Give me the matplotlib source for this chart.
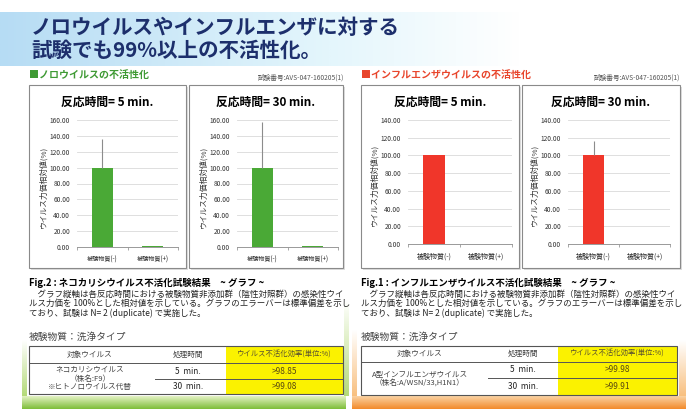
import numpy as np
import matplotlib
matplotlib.use("Agg")
import matplotlib.pyplot as plt
from matplotlib.patches import Rectangle

plt.rcParams['font.family'] = ['Noto Sans CJK JP', 'DejaVu Sans']

W, H = 690, 409

# data
categories = ['被験物質(-)', '被験物質(+)']
noro_5 = [100.0, 1.15]
noro_5_err = [36.0, 0.0]
noro_30 = [100.0, 0.92]
noro_30_err = [57.0, 0.0]
flu_5 = [100.0, 0.02]
flu_5_err = [0.5, 0.0]
flu_30 = [100.0, 0.09]
flu_30_err = [16.5, 0.0]

noro_ylim = 160
flu_ylim = 140
times = ['5  min.', '30  min.']
noro_eff = ['>98.85', '>99.08']
flu_eff = ['>99.98', '>99.91']

GREEN = '#4aa936'
RED = '#f0362a'
NAVY = '#1d2f6c'

fig = plt.figure(figsize=(W / 100, H / 100), dpi=100)
bg = fig.add_axes([0, 0, 1, 1])
bg.set_xlim(0, W)
bg.set_ylim(H, 0)
bg.axis('off')


def gradient(ax, x0, x1, y0, y1, c0, c1, horizontal=True):
    c0 = np.array(matplotlib.colors.to_rgb(c0))
    c1 = np.array(matplotlib.colors.to_rgb(c1))
    t = np.linspace(0, 1, 128)
    cols = c0[None, :] * (1 - t[:, None]) + c1[None, :] * t[:, None]
    img = cols[None, :, :] if horizontal else cols[:, None, :]
    ax.imshow(img, extent=(x0, x1, y1, y0), aspect='auto', zorder=0,
              interpolation='bilinear')


# title band
gradient(bg, 0, 330, 12, 66, '#b6dcf4', '#e4f6fc')
gradient(bg, 330, 520, 12, 66, '#e4f6fc', '#ffffff')
bg.text(31, 27, 'ノロウイルスやインフルエンザに対する', fontsize=14.8,
        fontweight='bold', color=NAVY, va='center')
bg.text(31, 50, '試験でも99%以上の不活性化。', fontsize=14.8,
        fontweight='bold', color=NAVY, va='center')

# bottom decorations
gradient(bg, 22, 346, 396, 409, '#e4f2c4', '#7dbe38', horizontal=False)
gradient(bg, 22, 27, 340, 396, '#ffffff', '#b4da78', horizontal=False)
gradient(bg, 344, 349, 300, 396, '#ffffff', '#b4da78', horizontal=False)
gradient(bg, 352, 686, 396, 409, '#fbd3a4', '#f28a2a', horizontal=False)
gradient(bg, 352, 357, 330, 396, '#ffffff', '#f8c080', horizontal=False)
gradient(bg, 679, 686, 340, 396, '#ffffff', '#f8c080', horizontal=False)

# section headers
bg.text(29, 76, '■ノロウイルスの不活性化', fontsize=7.2, fontweight='bold',
        color='#3f9a34', va='center')
bg.text(344, 78, '試験番号:AVS-047-160205(1)', fontsize=4.8, color='#555555',
        va='center', ha='right')
bg.text(361, 76, '■インフルエンザウイルスの不活性化', fontsize=7.2,
        fontweight='bold', color='#e8452c', va='center')
bg.text(680, 78, '試験番号:AVS-047-160205(1)', fontsize=4.8, color='#555555',
        va='center', ha='right')

panels = [
    (29, 186, 77, 178, noro_5, noro_5_err, noro_ylim, GREEN, '反応時間= 5 min.', 4.4),
    (189, 343, 237, 338, noro_30, noro_30_err, noro_ylim, GREEN, '反応時間= 30 min.', 4.4),
    (361, 519, 408, 512, flu_5, flu_5_err, flu_ylim, RED, '反応時間= 5 min.', 5.0),
    (522, 680, 568, 670, flu_30, flu_30_err, flu_ylim, RED, '反応時間= 30 min.', 5.0),
]

for bx0, bx1, ax0, ax1, vals, errs, ymax, col, title, xfs in panels:
    bg.add_patch(Rectangle((bx0 + 1.5, 86.5), bx1 - bx0, 183, facecolor='#dddddd',
                           edgecolor='none', zorder=1))
    bg.add_patch(Rectangle((bx0, 85), bx1 - bx0, 183, facecolor='white',
                           edgecolor='#8a8a8a', linewidth=0.8, zorder=2))
    bg.text((bx0 + bx1) / 2, 102, title, fontsize=8.5, fontweight='bold',
            ha='center', va='center', zorder=3)
    top, bottom = 120, (247 if ymax == 160 else 244)
    bg.text(ax0 - 34, (top + bottom) / 2 + 3, 'ウイルス力価相対値(%)', fontsize=5.6,
            rotation=90, ha='center', va='center', color='#333333', zorder=3)

    ax = fig.add_axes([ax0 / W, 1 - bottom / H, (ax1 - ax0) / W, (bottom - top) / H])
    ax.set_zorder(5)
    ax.patch.set_alpha(0)
    x = np.arange(len(categories))
    ax.bar(x, vals, width=0.42, color=col, zorder=3,
           yerr=[[0] * len(errs), errs], ecolor='#8c8c8c',
           error_kw=dict(elinewidth=0.8, capsize=0))
    ax.set_xlim(-0.5, 1.5)
    ax.set_ylim(0, ymax)
    ax.set_yticks(np.arange(0, ymax + 1, 20))
    ax.set_yticklabels(['%.2f' % v for v in np.arange(0, ymax + 1, 20)])
    ax.set_xticks(x)
    ax.set_xticklabels(categories)
    ax.set_xticks([-0.5, 0.5, 1.5], minor=True)
    ax.tick_params(axis='x', which='major', length=0, pad=6, labelsize=xfs,
                   labelcolor='#222222')
    ax.tick_params(axis='x', which='minor', length=2.5, color='#999999',
                   width=0.6)
    ax.tick_params(axis='y', length=0, pad=5, labelsize=4.8, labelcolor='#333333')
    ax.grid(axis='y', color='#d9d9d9', linewidth=0.6, zorder=0)
    for s in ['top', 'right', 'left']:
        ax.spines[s].set_visible(False)
    ax.spines['bottom'].set_color('#999999')
    ax.spines['bottom'].set_linewidth(0.7)

# captions
captions = [
    (29, 'Fig.2 : ネコカリシウイルス不活化試験結果　~ グラフ ~'),
    (361, 'Fig.1 : インフルエンザウイルス不活化試験結果　~ グラフ ~'),
]
body = ['　グラフ縦軸は各反応時間における被験物質非添加群（陰性対照群）の感染性ウイ',
        'ルス力価を 100%とした相対値を示している。グラフのエラーバーは標準偏差を示し',
        'ており、試験は N= 2 (duplicate) で実施した。']
for cx, cap in captions:
    bg.text(cx, 283, cap, fontsize=6.8, fontweight='bold', va='center')
    for i, line in enumerate(body):
        bg.text(cx, 294 + i * 9.5, line, fontsize=6.1, va='center', color='#222222')
    bg.text(cx, 337, '被験物質：洗浄タイプ', fontsize=7, va='center', color='#444444')

# tables
tables = [
    (29, 343, 155, 226, [346, 363, 379, 394], 90, 188,
     ['ネコカリシウイルス', '（株名:F9）', '※ヒトノロウイルス代替'], noro_eff),
    (361, 677, 488, 558, [346, 362, 378, 395], 420, 523,
     ['A型インフルエンザウイルス', '（株名:A/WSN/33,H1N1）'], flu_eff),
]
for tx0, tx1, mid_x, yel_x, ys, c1x, c2x, names, effs in tables:
    bg.add_patch(Rectangle((tx0, ys[0]), tx1 - tx0, ys[3] - ys[0], facecolor='white',
                           edgecolor='none', zorder=2))
    bg.add_patch(Rectangle((yel_x, ys[0]), tx1 - yel_x, ys[3] - ys[0],
                           facecolor='#fbf200', edgecolor='none', zorder=2))
    bg.add_patch(Rectangle((tx0, ys[0]), tx1 - tx0, ys[3] - ys[0], facecolor='none',
                           edgecolor='#555555', linewidth=0.8, zorder=3))
    bg.plot([tx0, tx1], [ys[1], ys[1]], color='#555555', linewidth=0.7, zorder=3)
    bg.plot([mid_x, tx1], [ys[2], ys[2]], color='#555555', linewidth=0.7, zorder=3)
    ycx = (yel_x + tx1) / 2
    hy = (ys[0] + ys[1]) / 2
    bg.text(c1x, hy, '対象ウイルス', fontsize=5.5, ha='center', va='center',
            color='#444444', zorder=4)
    bg.text(c2x, hy, '処理時間', fontsize=5.5, ha='center', va='center',
            color='#444444', zorder=4)
    bg.text(ycx, hy, 'ウイルス不活化効率(単位:%)', fontsize=5.3, ha='center',
            va='center', color='#5a5230', zorder=4)
    for i in range(2):
        ry = (ys[i + 1] + ys[i + 2]) / 2
        bg.text(c2x, ry, times[i], fontsize=6, ha='center', va='center',
                color='#222222', zorder=4)
        bg.text(ycx, ry, effs[i], fontsize=6, ha='center', va='center',
                color='#5a4a10', zorder=4)
    body_mid = (ys[1] + ys[3]) / 2
    n = len(names)
    for i, nm in enumerate(names):
        bg.text(c1x, body_mid + (i - (n - 1) / 2) * 8.5, nm, fontsize=5.5,
                ha='center', va='center', color='#444444', zorder=4)

fig.savefig('out.png', dpi=100)
